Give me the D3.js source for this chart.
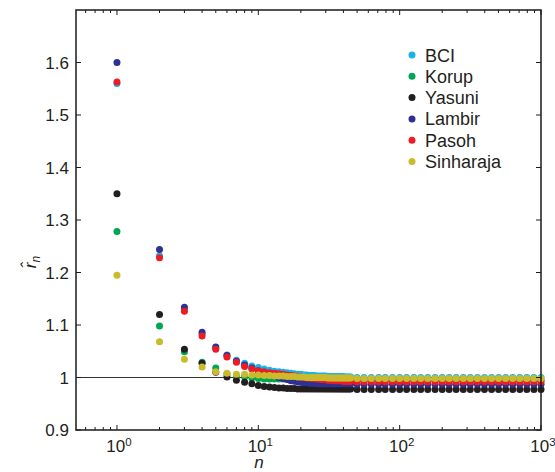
<!DOCTYPE html>
<html>
<head>
<meta charset="utf-8">
<script src="https://cdn.jsdelivr.net/npm/d3@7"></script>
<style>
  body { margin: 0; background: #fff; }
  svg { display: block; font-family: "Liberation Sans", Arial, sans-serif; }
</style>
</head>
<body>
<svg id="vis" width="555" height="472"></svg>
<script>
// n values: every integer up to 45, then log spaced
var nValues = [
  1, 2, 3, 4, 5, 6, 7, 8, 9, 10,
  11, 12, 13, 14, 15, 16, 17, 18, 19, 20,
  21, 22, 23, 24, 25, 26, 27, 28, 29, 30,
  31, 32, 33, 34, 35, 36, 37, 38, 39, 40,
  41, 42, 43, 44, 45,
  50, 56, 63, 71, 79, 89, 100, 112, 126, 141, 158, 178, 200, 224,
  251, 282, 316, 355, 398, 447, 501, 562, 631, 708, 794, 891, 1000
];

var bci = [
  1.560, 1.232, 1.130, 1.083, 1.057, 1.043, 1.033, 1.027, 1.022, 1.019,
  1.016, 1.014, 1.012, 1.011, 1.010, 1.009, 1.008, 1.007, 1.006, 1.006,
  1.005, 1.005, 1.004, 1.004, 1.004, 1.003, 1.003, 1.003, 1.003, 1.003,
  1.002, 1.002, 1.002, 1.002, 1.002, 1.002, 1.002, 1.002, 1.002, 1.002,
  1.001, 1.001, 1.001, 1.001, 1.001,
  1.000, 1.000, 1.000, 1.000, 1.000, 1.000, 1.000, 1.000, 1.000, 1.000, 1.000, 1.000, 1.000, 1.000,
  1.000, 1.000, 1.000, 1.000, 1.000, 1.000, 1.000, 1.000, 1.000, 1.000, 1.000, 1.000, 1.000
];
var korup = [
  1.278, 1.098, 1.049, 1.029, 1.018, 1.007, 1.003, 1.001, 0.999, 0.998,
  0.997, 0.997, 0.997, 0.997, 0.997, 0.997, 0.997, 0.997, 0.997, 0.997,
  0.997, 0.997, 0.996, 0.996, 0.996, 0.996, 0.996, 0.996, 0.996, 0.996,
  0.996, 0.996, 0.996, 0.996, 0.996, 0.996, 0.996, 0.996, 0.996, 0.996,
  0.996, 0.996, 0.996, 0.996, 0.996,
  0.995, 0.995, 0.995, 0.995, 0.995, 0.995, 0.995, 0.995, 0.995, 0.995, 0.995, 0.995, 0.995, 0.995,
  0.995, 0.995, 0.995, 0.995, 0.995, 0.995, 0.995, 0.995, 0.995, 0.995, 0.995, 0.995, 0.995
];
var yasuni = [
  1.350, 1.120, 1.054, 1.027, 1.010, 1.001, 0.995, 0.991, 0.988, 0.985,
  0.983, 0.982, 0.981, 0.980, 0.980, 0.979, 0.979, 0.979, 0.978, 0.978,
  0.978, 0.978, 0.978, 0.978, 0.978, 0.978, 0.978, 0.978, 0.978, 0.978,
  0.978, 0.978, 0.978, 0.978, 0.978, 0.978, 0.978, 0.978, 0.978, 0.978,
  0.978, 0.978, 0.978, 0.978, 0.978,
  0.977, 0.977, 0.977, 0.977, 0.977, 0.977, 0.977, 0.977, 0.977, 0.977, 0.977, 0.977, 0.977, 0.977,
  0.977, 0.977, 0.977, 0.977, 0.977, 0.977, 0.977, 0.977, 0.977, 0.977, 0.977, 0.977, 0.977
];
var lambir = [
  1.600, 1.244, 1.134, 1.086, 1.058, 1.042, 1.031, 1.024, 1.018, 1.013,
  1.009, 1.006, 1.003, 1.000, 0.998, 0.996, 0.994, 0.993, 0.992, 0.991,
  0.990, 0.990, 0.989, 0.989, 0.989, 0.988, 0.988, 0.988, 0.988, 0.988,
  0.988, 0.988, 0.988, 0.988, 0.988, 0.988, 0.988, 0.988, 0.988, 0.988,
  0.988, 0.988, 0.988, 0.988, 0.988,
  0.987, 0.987, 0.987, 0.987, 0.987, 0.987, 0.987, 0.987, 0.987, 0.987, 0.987, 0.987, 0.987, 0.987,
  0.987, 0.987, 0.987, 0.987, 0.987, 0.987, 0.987, 0.987, 0.987, 0.987, 0.987, 0.987, 0.987
];
var pasoh = [
  1.563, 1.228, 1.126, 1.079, 1.054, 1.039, 1.029, 1.021, 1.016, 1.013,
  1.011, 1.009, 1.008, 1.007, 1.006, 1.005, 1.004, 1.003, 1.002, 1.001,
  1.000, 0.999, 0.999, 0.998, 0.998, 0.997, 0.997, 0.996, 0.996, 0.996,
  0.995, 0.995, 0.995, 0.995, 0.994, 0.994, 0.994, 0.994, 0.994, 0.993,
  0.993, 0.993, 0.993, 0.993, 0.993,
  0.992, 0.992, 0.992, 0.992, 0.992, 0.992, 0.992, 0.992, 0.992, 0.992, 0.992, 0.992, 0.992, 0.992,
  0.992, 0.992, 0.992, 0.992, 0.992, 0.992, 0.992, 0.992, 0.992, 0.992, 0.992, 0.992, 0.992
];
var sinharaja = [
  1.195, 1.068, 1.035, 1.020, 1.011, 1.008, 1.006, 1.006, 1.005, 1.005,
  1.004, 1.004, 1.003, 1.003, 1.003, 1.002, 1.002, 1.002, 1.001, 1.001,
  1.001, 1.000, 1.000, 1.000, 1.000, 1.000, 1.000, 1.000, 1.000, 1.000,
  0.999, 0.999, 0.999, 0.999, 0.999, 0.999, 0.999, 0.999, 0.999, 0.999,
  0.999, 0.999, 0.999, 0.999, 0.999,
  0.998, 0.998, 0.998, 0.998, 0.998, 0.998, 0.998, 0.998, 0.998, 0.998, 0.998, 0.998, 0.998, 0.998,
  0.998, 0.998, 0.998, 0.998, 0.998, 0.998, 0.998, 0.998, 0.998, 0.998, 0.998, 0.998, 0.998
];

var seriesNames = ['BCI', 'Korup', 'Yasuni', 'Lambir', 'Pasoh', 'Sinharaja'];
var seriesValues = [bci, korup, yasuni, lambir, pasoh, sinharaja];
var seriesColors = ['#19b2ea', '#00a651', '#231f20', '#2e3192', '#ed1c24', '#c9bb2c'];

var yTicks = [0.9, 1, 1.1, 1.2, 1.3, 1.4, 1.5, 1.6];
var yTickLabels = ['0.9', '1', '1.1', '1.2', '1.3', '1.4', '1.5', '1.6'];
var xMajorTicks = [1, 10, 100, 1000];
var xExponents = ['0', '1', '2', '3'];

// plot box (note: "top" is a reserved window global, so use a margin object)
var box = { left: 76, right: 541, top: 10, bottom: 430 };

var x = d3.scaleLog().domain([0.513, 1000]).range([box.left, box.right]);
var y = d3.scaleLinear().domain([0.9, 1.7]).range([box.bottom, box.top]);

var svg = d3.select('#vis');

// minor ticks at 2..9 in every decade (plus 0.6..0.9)
var xMinorTicks = [];
[0.1, 1, 10, 100].forEach(function (d) {
    for (var k = 2; k <= 9; k++) {
        var v = d * k;
        if (v >= 0.513 && v < 1000 && xMajorTicks.indexOf(v) < 0) xMinorTicks.push(v);
    }
});

// reference line at r = 1
svg.append('line')
    .attr('x1', box.left).attr('x2', box.right)
    .attr('y1', y(1)).attr('y2', y(1))
    .attr('stroke', '#333').attr('stroke-width', 1);

// points
seriesValues.forEach(function (vals, i) {
    svg.append('g')
        .selectAll('circle')
        .data(vals)
        .enter().append('circle')
        .attr('cx', function (d, j) { return x(nValues[j]); })
        .attr('cy', function (d) { return y(d); })
        .attr('r', 3.5)
        .attr('fill', seriesColors[i]);
});

// frame
svg.append('rect')
    .attr('x', box.left).attr('y', box.top)
    .attr('width', box.right - box.left).attr('height', box.bottom - box.top)
    .attr('fill', 'none').attr('stroke', '#1a1a1a').attr('stroke-width', 1.5);

var ticks = svg.append('g').attr('stroke', '#1a1a1a').attr('stroke-width', 1);

// x ticks, bottom and top, pointing inward
xMajorTicks.forEach(function (t) {
    ticks.append('line').attr('x1', x(t)).attr('x2', x(t)).attr('y1', box.bottom).attr('y2', box.bottom - 5);
    ticks.append('line').attr('x1', x(t)).attr('x2', x(t)).attr('y1', box.top).attr('y2', box.top + 5);
});
xMinorTicks.forEach(function (t) {
    ticks.append('line').attr('x1', x(t)).attr('x2', x(t)).attr('y1', box.bottom).attr('y2', box.bottom - 3);
    ticks.append('line').attr('x1', x(t)).attr('x2', x(t)).attr('y1', box.top).attr('y2', box.top + 3);
});
// y ticks, left and right
yTicks.forEach(function (t) {
    ticks.append('line').attr('x1', box.left).attr('x2', box.left + 5).attr('y1', y(t)).attr('y2', y(t));
    ticks.append('line').attr('x1', box.right).attr('x2', box.right - 5).attr('y1', y(t)).attr('y2', y(t));
});

// y tick labels
svg.append('g').selectAll('text')
    .data(yTicks)
    .enter().append('text')
    .attr('x', box.left - 7)
    .attr('y', function (d) { return y(d) + 6; })
    .attr('text-anchor', 'end')
    .attr('font-size', 17)
    .attr('fill', '#231f20')
    .text(function (d, i) { return yTickLabels[i]; });

// x tick labels 10^k
var xl = svg.append('g').selectAll('text')
    .data(xMajorTicks)
    .enter().append('text')
    .attr('x', function (d) { return x(d) + 2; })
    .attr('y', 452)
    .attr('text-anchor', 'middle')
    .attr('font-size', 17)
    .attr('fill', '#231f20');
xl.append('tspan').text('10');
xl.append('tspan')
    .attr('dy', -6)
    .attr('font-size', 11.5)
    .text(function (d, i) { return xExponents[i]; });

// axis titles
svg.append('text')
    .attr('x', 259).attr('y', 468)
    .attr('text-anchor', 'middle')
    .attr('font-size', 17)
    .attr('font-style', 'italic')
    .attr('fill', '#231f20')
    .text('n');

var yl = svg.append('text')
    .attr('transform', 'translate(36,262) rotate(-90)')
    .attr('text-anchor', 'middle')
    .attr('font-size', 17)
    .attr('font-style', 'italic')
    .attr('fill', '#231f20');
yl.append('tspan').text('r\u0302');
yl.append('tspan').attr('dy', 4).attr('font-size', 12).text('n');

// legend
var legend = svg.append('g');
seriesNames.forEach(function (name, i) {
    var ly = 55 + i * 21.3;
    legend.append('circle')
        .attr('cx', 412).attr('cy', ly).attr('r', 3.5)
        .attr('fill', seriesColors[i]);
    legend.append('text')
        .attr('x', 425).attr('y', ly + 6.5)
        .attr('font-size', 18)
        .attr('fill', '#231f20')
        .text(name);
});
</script>
</body>
</html>
